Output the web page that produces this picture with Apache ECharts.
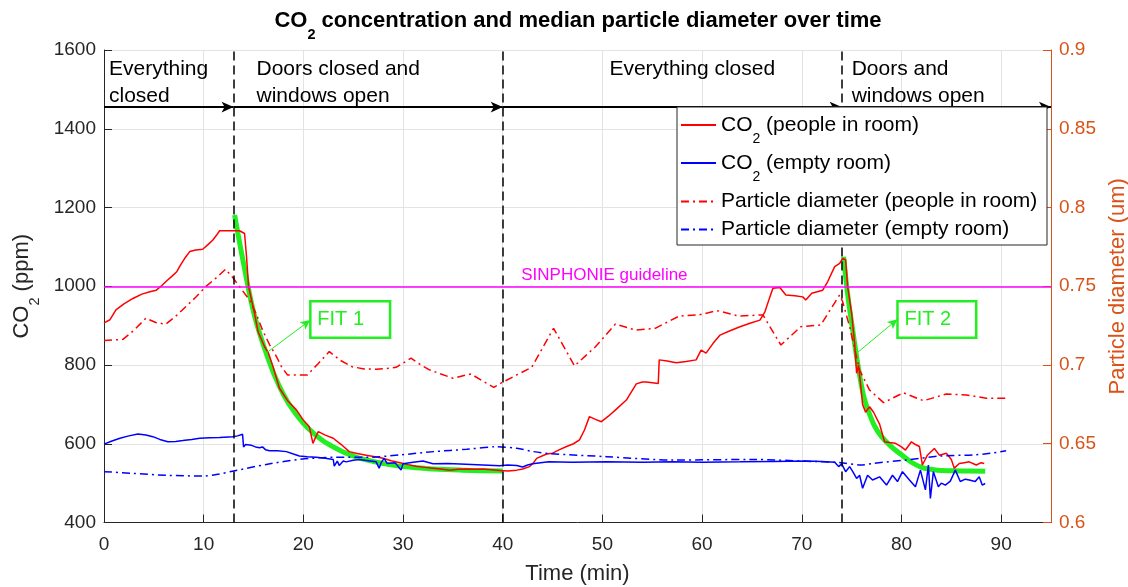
<!DOCTYPE html>
<html><head><meta charset="utf-8">
<script src="https://cdn.jsdelivr.net/npm/echarts@6/dist/echarts.min.js"></script>
<style>html,body{margin:0;padding:0;background:#fff}#c{width:1128px;height:587px}</style>
</head><body><div id="c"></div>
<script>
// ---------------- DATA ----------------
const co2People = [[0,907],[0.6,915],[1.2,940],[2,955],[2.9,969],[3.8,980],[4.6,986],[5.25,990],[5.8,1002],[6.3,1014],[6.8,1025],[7.3,1037],[7.7,1055],[8.1,1071],[8.6,1088],[9.2,1092],[9.9,1094],[10.4,1105],[10.9,1117],[11.3,1130],[11.6,1141],[12.3,1141],[12.9,1141],[13.6,1141],[14.1,1134],[14.3,1075],[14.5,1000],[15.1,931],[15.45,885],[16.1,847],[16.5,830],[16.95,796],[17.6,741],[18.4,710],[19.3,686],[20.0,660],[20.6,643],[20.96,601],[21.2,615],[21.5,631],[22.2,622],[23,614],[23.8,598],[24.6,580],[25.4,575],[26.3,571],[27.2,567],[28,563],[28.8,557],[29.7,552],[30.5,547],[31.3,543],[32.2,540],[33,538],[34,535],[34.7,533],[35.5,535],[36.3,536],[37.2,535],[38,536],[38.9,534],[39.7,532],[40.5,531],[41.4,533],[42,536],[42.7,542],[43.1,552],[43.4,563],[44.4,574],[45,576],[45.7,585],[46.4,593],[47.1,600],[47.7,610],[48.2,635],[48.7,669],[49.3,662],[49.9,656],[50.6,670],[51.4,688],[52.4,711],[53.4,752],[54,757],[54.4,757],[55,755],[55.6,753],[55.7,813],[56.5,810],[57.4,806],[58.4,809],[59.4,813],[59.9,838],[60.4,830],[61.1,855],[61.8,876],[62.8,887],[63.8,897],[64.8,906],[65.8,914],[66.3,935],[66.8,973],[67.1,995],[67.8,997],[68.4,978],[69.3,976],[70.1,973],[70.4,965],[71,982],[72.1,990],[72.6,1012],[73.3,1050],[73.8,1058],[74.1,1071],[74.4,1067],[74.6,999],[75,931],[75.3,855],[75.5,779],[75.7,800],[76.1,700],[76.4,680],[76.8,694],[77.2,680],[77.8,650],[78.3,605],[78.8,603],[79.4,601],[80,592],[80.4,584],[81,605],[81.4,598],[81.8,593],[82.1,546],[82.6,571],[83.3,588],[83.8,571],[84.5,576],[85,560],[85.3,538],[85.8,550],[86.3,552],[86.8,554],[87.5,546],[88,552],[88.3,550]];
const co2Empty = [[0,599],[0.8,607],[1.6,614],[2.5,620],[3.4,625],[4.2,622],[4.9,618],[5.6,611],[6.4,605],[7.2,606],[7.9,608],[8.8,611],[9.6,614],[10.6,615],[11.6,616],[12.9,618],[13.4,620],[13.6,624],[13.9,624],[14,592],[14.2,598],[14.4,603],[14.8,596],[15.2,592],[15.6,590],[15.9,592],[16.2,585],[16.6,582],[17.4,582],[18.3,580],[19,574],[19.6,569],[20.4,567],[21.3,566],[22.2,563],[23,560],[23.1,543],[23.4,556],[23.6,545],[24,556],[24.3,554],[25,558],[25.6,560],[26.5,557],[27.3,554],[27.6,538],[27.8,552],[28.1,563],[28.4,550],[28.6,549],[29.2,552],[29.8,533],[30,549],[31,553],[32,556],[33,549],[34.5,550],[36.3,548],[38,546],[39.7,544],[40.5,546],[41.4,545],[42,541],[42.5,546],[43,549],[44.6,554],[47,553],[50.4,554],[54,553],[57.1,554],[60,553],[63.8,554],[67,555],[70.5,556],[72,555],[73.3,553],[73.7,542],[74,549],[74.4,529],[74.8,542],[75.1,530],[75.5,512],[75.8,520],[76.1,487],[76.6,520],[77.1,508],[77.8,516],[78.5,495],[79.1,520],[79.6,504],[80.1,529],[80.8,508],[81.4,491],[81.9,533],[82.4,483],[82.7,546],[82.9,461],[83.2,529],[83.7,491],[84,500],[84.4,495],[84.9,505],[85.4,533],[85.9,504],[86.4,510],[86.8,508],[87.4,504],[87.8,516],[88.1,495],[88.4,499]];
const diamPeople = [[0,0.7155],[1.9,0.7163],[3,0.722],[4.2,0.7297],[5.2,0.727],[6.2,0.7259],[7.2,0.731],[8.2,0.737],[9.2,0.743],[10.2,0.7497],[11.2,0.755],[12.2,0.7608],[12.9,0.7557],[13.8,0.748],[14.6,0.7413],[15.3,0.732],[15.9,0.7222],[16.6,0.713],[17.3,0.7053],[17.8,0.699],[18.4,0.6937],[19.4,0.6937],[20.4,0.6937],[21.5,0.701],[22.6,0.7085],[23.7,0.703],[24.9,0.6989],[26.1,0.6975],[27.3,0.6973],[28.3,0.6978],[29.3,0.6985],[30.8,0.7043],[31.8,0.7],[32.7,0.6968],[35,0.6916],[36.8,0.6943],[39.1,0.6858],[39.9,0.6888],[41.5,0.694],[42.9,0.6985],[45.1,0.7233],[47.2,0.6994],[49.3,0.7116],[51.3,0.726],[53.3,0.7222],[55.3,0.7233],[57.7,0.7311],[59.7,0.7318],[61.5,0.7345],[63.7,0.7311],[66.1,0.7318],[67.9,0.7127],[69.9,0.7243],[71.9,0.7254],[73.8,0.7445],[74.1,0.7402],[74.8,0.7243],[75.8,0.6968],[76.8,0.6841],[78.2,0.6761],[80.2,0.6824],[82.2,0.6773],[84.5,0.6816],[86.5,0.681],[88.5,0.6789],[90.5,0.6789]];
const diamEmpty = [[0,0.6323],[2.9,0.6312],[6.2,0.630],[10,0.6295],[11.4,0.6306],[13,0.6327],[16.4,0.637],[19.7,0.6401],[23.1,0.6414],[26.4,0.6414],[29.7,0.6429],[33.1,0.645],[36.4,0.6465],[39.4,0.6481],[41.4,0.6471],[43.1,0.645],[44.8,0.6437],[50.4,0.6418],[57.1,0.6397],[65.1,0.640],[70.5,0.6389],[73.9,0.638],[75.9,0.6365],[77.2,0.6376],[80.5,0.6397],[83.9,0.6422],[87.2,0.6429],[88.9,0.6439],[90.5,0.6456]];
const fit1 = [[13.1,1181],[14,1058],[15,935],[16,850],[17,780],[18,725],[19,684],[20,652],[21,627],[22,607],[23,592],[24,579],[25,569],[26,561],[28,550],[30,542],[33,536],[36,533],[40,531]];
const fit2 = [[74.2,1075],[74.6,980],[75.1,890],[75.6,805],[76.2,722],[76.8,675],[77.3,645],[78,618],[79,592],[80,572],[81,553],[82,540],[83,535],[84,532],[86,531],[88.4,530]];
const seriesNames = ['CO2 (people in room)','CO2 (empty room)','Particle diameter (people in room)','Particle diameter (empty room)'];
const phaseBounds = [13, 40, 74];
const phaseArrows = [[0,13],[13,40],[40,74],[74,95]];
const arrowLevel = 1455;
const guideline = 1000;
const guidelineLabel = {text:'SINPHONIE guideline', x:50.2, y:1029};
const phaseLabels = [
  {text:'Everything\nclosed', x:0.5, y:1550},
  {text:'Doors closed and\nwindows open', x:15.3, y:1550},
  {text:'Everything closed', x:50.7, y:1550},
  {text:'Doors and\nwindows open', x:75.0, y:1550}
];
const fitLabels = [
  {text:'FIT 1', x0:20.7, x1:28.7, yTop:962, yBottom:869, from:[16.3,831], to:[20.7,914]},
  {text:'FIT 2', x0:79.6, x1:87.5, yTop:962, yBottom:869, from:[75.5,830], to:[79.6,916]}
];
const xTicks = {min:0, max:95, interval:10};
const yLeftTicks = {min:400, max:1600, interval:200};
const yRightTicks = {min:0.6, max:0.9, interval:0.05};

// ---------------- STYLE ----------------
const FONT = '"Liberation Sans", Arial, Helvetica, sans-serif';
const AX = '#262626';
const ORANGE = '#D95319';
const GREEN = '#22ee22';
const RED = '#ff0000';
const BLUE = '#0000ff';
function subRich(size, subSize, color, bold, pad) {
  return {
    n: {fontSize:size, fontFamily:FONT, color:color, fontWeight:bold?'bold':'normal', lineHeight:size+4},
    s: {fontSize:subSize, fontFamily:FONT, color:color, fontWeight:bold?'bold':'normal', lineHeight:subSize, padding:[pad,0,0,0]}
  };
}
function co2Rich(name) {
  return name.indexOf('CO2') === 0 ? '{n|CO}{s|2}{n|' + name.slice(3) + '}' : '{n|' + name + '}';
}

const chart = echarts.init(document.getElementById('c'), null, {renderer:'canvas', width:1128, height:587});

const legendCenters = [125, 163, 200, 228];
const option = {
  animation:false,
  backgroundColor:'#fff',
  title:{
    text:'{n|CO}{s|2}{n| concentration and median particle diameter over time}',
    left:578, top:8, textAlign:'center', padding:0,
    textStyle:{rich:subRich(22, 14.5, '#000', true, 27)}
  },
  grid:{left:104, right:77, top:50, bottom:64.5, containLabel:false, outerBoundsMode:'none'},
  legend: seriesNames.map((nm,i)=>({
    data:[nm], left:680, top: legendCenters[i] - (nm.indexOf('CO2')===0 ? 21 : 9),
    itemWidth:35, itemHeight:14, padding:0, itemGap:0, z:6, selectedMode:false,
    itemStyle:{opacity:0, borderWidth:0},
    formatter: co2Rich,
    textStyle:{fontSize:21, fontFamily:FONT, color:'#000', rich:subRich(21, 14, '#000', false, 28)}
  })),
  xAxis:{
    type:'value', min:xTicks.min, max:xTicks.max, interval:xTicks.interval,
    name:'Time (min)', nameLocation:'middle', nameGap:40,
    nameTextStyle:{fontSize:22, fontFamily:FONT, color:AX},
    axisLine:{show:true, onZero:false, lineStyle:{color:AX, width:1}},
    axisTick:{show:true, inside:true, length:8, lineStyle:{color:AX}},
    axisLabel:{fontSize:19, fontFamily:FONT, color:AX, margin:13, showMaxLabel:false, formatter:v=>String(v)},
    splitLine:{show:true, lineStyle:{color:'#e3e3e3', width:1}}
  },
  yAxis:[
    {
      type:'value', min:yLeftTicks.min, max:yLeftTicks.max, interval:yLeftTicks.interval, position:'left',
      name:'{n|CO}{s|2}{n| (ppm)}', nameLocation:'middle', nameGap:50, nameRotate:90,
      nameTextStyle:{rich:subRich(22, 14.5, AX, false, 27)},
      axisLine:{show:true, lineStyle:{color:AX, width:1}},
      axisTick:{show:true, inside:true, length:8, lineStyle:{color:AX}},
      axisLabel:{fontSize:19, fontFamily:FONT, color:AX, margin:8, formatter:v=>String(v)},
      splitLine:{show:true, lineStyle:{color:'#e3e3e3', width:1}}
    },
    {
      type:'value', min:yRightTicks.min, max:yRightTicks.max, interval:yRightTicks.interval, position:'right',
      name:'Particle diameter (um)', nameLocation:'middle', nameGap:52, nameRotate:90,
      nameTextStyle:{fontSize:22, fontFamily:FONT, color:ORANGE},
      axisLine:{show:true, lineStyle:{color:ORANGE, width:1}},
      axisTick:{show:true, inside:true, length:8, lineStyle:{color:ORANGE}},
      axisLabel:{fontSize:19, fontFamily:FONT, color:ORANGE, margin:8, formatter:v=>String(+v.toFixed(2))},
      splitLine:{show:false}
    }
  ],
  series:[
    {name:'fit1', type:'line', data:fit1, smooth:0.4, symbol:'none', yAxisIndex:0, z:2,
     lineStyle:{color:GREEN, width:5}, itemStyle:{color:GREEN},
     markLine:{silent:true, symbol:['none','arrow'], symbolSize:[7,10], label:{show:false},
       lineStyle:{color:GREEN, width:1, type:'solid'},
       data:[[{coord:fitLabels[0].from},{coord:fitLabels[0].to}]]}},
    {name:'fit2', type:'line', data:fit2, smooth:0.4, symbol:'none', yAxisIndex:0, z:2,
     lineStyle:{color:GREEN, width:5}, itemStyle:{color:GREEN},
     markLine:{silent:true, symbol:['none','arrow'], symbolSize:[7,10], label:{show:false},
       lineStyle:{color:GREEN, width:1, type:'solid'},
       data:[[{coord:fitLabels[1].from},{coord:fitLabels[1].to}]]}},
    {name:seriesNames[0], type:'line', data:co2People, symbol:'none', yAxisIndex:0, z:3,
     lineStyle:{color:RED, width:1.5}, itemStyle:{color:RED},
     markLine:{silent:true, symbol:['none','none'], label:{show:false},
       lineStyle:{color:'#ff00ff', width:1.5, type:'solid'},
       data:[{yAxis:guideline}]}},
    {name:seriesNames[1], type:'line', data:co2Empty, symbol:'none', yAxisIndex:0, z:3,
     lineStyle:{color:BLUE, width:1.5}, itemStyle:{color:BLUE}},
    {name:seriesNames[2], type:'line', data:diamPeople, symbol:'none', yAxisIndex:1, z:3,
     lineStyle:{color:RED, width:1.5, type:[8,4,2,4]}, itemStyle:{color:RED}},
    {name:seriesNames[3], type:'line', data:diamEmpty, symbol:'none', yAxisIndex:1, z:3, smooth:0.3,
     lineStyle:{color:BLUE, width:1.5, type:[8,4,2,4]}, itemStyle:{color:BLUE}},
    {name:'phases', type:'line', data:[], symbol:'none', yAxisIndex:0, z:10,
     markLine:{silent:true, symbol:['none','none'], label:{show:false},
       lineStyle:{color:'#000', width:1.5, type:[9,5]},
       data:phaseBounds.map(b=>({xAxis:b}))}},
    {name:'arrows', type:'line', data:[], symbol:'none', yAxisIndex:0, z:10,
     markLine:{silent:true, symbol:['none','arrow'], symbolSize:[8,12], label:{show:false},
       lineStyle:{color:'#000', width:2, type:'solid'},
       data:phaseArrows.map(a=>[{coord:[a[0],arrowLevel]},{coord:[a[1],arrowLevel]}])}}
  ]
};
chart.setOption(option);

function P(x,y){ return chart.convertToPixel({xAxisIndex:0, yAxisIndex:0}, [x,y]); }
const els = [];
els.push({type:'rect', shape:{x:677, y:107, width:370, height:138}, style:{fill:'#fff', stroke:AX, lineWidth:1}, z:5, silent:true});
phaseLabels.forEach(p=>{
  const q = P(p.x, p.y);
  els.push({type:'text', x:q[0], y:q[1]-13.5, z:5, silent:true,
    style:{text:p.text, fill:'#000', font:'21px ' + FONT, lineHeight:27, textAlign:'left', textVerticalAlign:'top', align:'left', verticalAlign:'top'}});
});
{
  const q = P(guidelineLabel.x, guidelineLabel.y);
  els.push({type:'text', x:q[0], y:q[1], z:5, silent:true,
    style:{text:guidelineLabel.text, fill:'#ff00ff', font:'17px ' + FONT, textAlign:'center', textVerticalAlign:'middle', align:'center', verticalAlign:'middle'}});
}
fitLabels.forEach(f=>{
  const a = P(f.x0, f.yTop), b = P(f.x1, f.yBottom);
  els.push({type:'rect', shape:{x:a[0], y:a[1], width:b[0]-a[0], height:b[1]-a[1]}, style:{fill:'#fff', stroke:GREEN, lineWidth:2.5}, z:5, silent:true});
  els.push({type:'text', x:a[0]+7, y:(a[1]+b[1])/2, z:6, silent:true,
    style:{text:f.text, fill:GREEN, font:'20px ' + FONT, textAlign:'left', textVerticalAlign:'middle', align:'left', verticalAlign:'middle'}});
});
chart.setOption({graphic:{elements:els}});
</script></body></html>
